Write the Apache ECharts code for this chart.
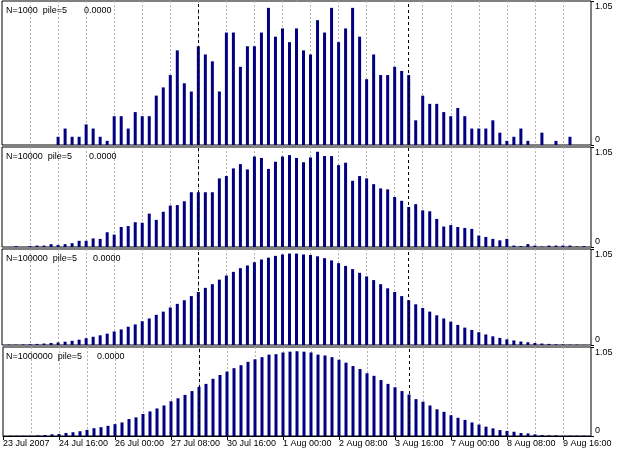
<!DOCTYPE html>
<html>
<head>
<meta charset="utf-8">
<script src="https://cdn.jsdelivr.net/npm/echarts@6/dist/echarts.min.js"></script>
<style>html,body{margin:0;padding:0;background:#fff}#main{width:625px;height:450px}</style>
</head>
<body>
<div id="main"></div>
<script>
// bottom axis labels, one every 8 bars (H4 bars)
const tickLabels = ['23 Jul 2007', '24 Jul 16:00', '26 Jul 00:00', '27 Jul 08:00', '30 Jul 16:00',
  '1 Aug 00:00', '2 Aug 08:00', '3 Aug 16:00', '7 Aug 00:00', '8 Aug 08:00', '9 Aug 16:00'];
const separators = ['28', '58'];
const panelNames = ['N=1000  pile=5', 'N=10000  pile=5', 'N=100000  pile=5', 'N=1000000  pile=5'];
const panelValues = ['0.0000', '0.0000', '0.0000', '0.0000'];

const n1000 = [0, 0, 0, 0, 0, 0, 0, 0, 0.06, 0.12, 0.06, 0.06, 0.15, 0.12, 0.06, 0.03,
  0.21, 0.21, 0.12, 0.24, 0.21, 0.21, 0.36, 0.42, 0.51, 0.69, 0.45, 0.39, 0.72, 0.66,
  0.61, 0.39, 0.82, 0.82, 0.57, 0.72, 0.72, 0.82, 1.0, 0.79, 0.85, 0.75, 0.85, 0.69,
  0.66, 0.91, 0.82, 1.0, 0.75, 0.85, 1.0, 0.79, 0.48, 0.66, 0.51, 0.51, 0.57, 0.54,
  0.51, 0.18, 0.36, 0.30, 0.30, 0.24, 0.21, 0.27, 0.21, 0.12, 0.12, 0.12, 0.18, 0.09,
  0.03, 0.06, 0.12, 0.03, 0, 0.09, 0, 0.03, 0, 0.06, 0, 0, 0];
const n10000 = [0, 0, 0.01, 0, 0.01, 0.015, 0.015, 0.03, 0.02, 0.03, 0.04, 0.065, 0.065,
  0.09, 0.085, 0.155, 0.13, 0.21, 0.22, 0.26, 0.255, 0.35, 0.285, 0.37, 0.435, 0.44,
  0.48, 0.575, 0.575, 0.575, 0.575, 0.72, 0.745, 0.825, 0.87, 0.815, 0.95, 0.935, 0.82,
  0.895, 0.95, 0.965, 0.935, 0.89, 0.94, 1.0, 0.955, 0.955, 0.86, 0.885, 0.695, 0.745,
  0.72, 0.66, 0.615, 0.605, 0.525, 0.485, 0.42, 0.45, 0.385, 0.375, 0.295, 0.215, 0.23,
  0.21, 0.2, 0.19, 0.12, 0.105, 0.085, 0.07, 0.085, 0.015, 0.01, 0.03, 0.015, 0.005,
  0.015, 0.015, 0.015, 0.015, 0.005, 0.01, 0];
const n100000 = [0, 0.004, 0.004, 0.006, 0.008, 0.012, 0.016, 0.022, 0.028, 0.036, 0.046,
  0.058, 0.074, 0.09, 0.106, 0.124, 0.148, 0.17, 0.2, 0.225, 0.26, 0.29, 0.33, 0.365,
  0.41, 0.45, 0.49, 0.535, 0.58, 0.625, 0.665, 0.715, 0.76, 0.8, 0.84, 0.87, 0.905,
  0.935, 0.955, 0.975, 0.99, 1.0, 1.0, 0.99, 0.985, 0.97, 0.95, 0.925, 0.895, 0.865,
  0.83, 0.79, 0.75, 0.71, 0.665, 0.62, 0.58, 0.535, 0.49, 0.445, 0.405, 0.365, 0.325,
  0.29, 0.255, 0.22, 0.19, 0.165, 0.14, 0.115, 0.095, 0.078, 0.062, 0.05, 0.038, 0.03,
  0.022, 0.016, 0.012, 0.008, 0.006, 0.004, 0.004, 0.002, 0];
const n1000000 = [0, 0.003, 0.003, 0.003, 0.004, 0.008, 0.012, 0.02, 0.024, 0.036, 0.044,
  0.056, 0.072, 0.092, 0.104, 0.12, 0.14, 0.16, 0.2, 0.22, 0.26, 0.29, 0.325, 0.36,
  0.41, 0.445, 0.485, 0.53, 0.58, 0.615, 0.675, 0.72, 0.76, 0.8, 0.835, 0.875, 0.905,
  0.93, 0.96, 0.965, 0.985, 0.995, 1.0, 0.995, 0.985, 0.96, 0.95, 0.93, 0.9, 0.865,
  0.825, 0.79, 0.74, 0.71, 0.66, 0.615, 0.575, 0.53, 0.49, 0.435, 0.405, 0.36, 0.315,
  0.285, 0.245, 0.215, 0.19, 0.16, 0.135, 0.11, 0.09, 0.07, 0.06, 0.05, 0.035, 0.03,
  0.02, 0.012, 0.008, 0.008, 0.004, 0.004, 0.004, 0.004, 0];

const panels = [n1000, n10000, n100000, n1000000];
const bars = n1000.map((_, i) => String(i));

const font = "'Liberation Sans', Arial, sans-serif";
const boxes = [
  { top: 1, height: 144 },
  { top: 147, height: 100 },
  { top: 249, height: 96 },
  { top: 347, height: 89 }
];
const valueLefts = [84, 89, 93, 97];
const last = panels.length - 1;

const chart = echarts.init(document.getElementById('main'));

const titles = [];
panels.forEach((_, i) => {
  const ts = { fontSize: 9, fontWeight: 'normal', fontFamily: font, color: '#000' };
  titles.push({ text: panelNames[i], left: 6, top: boxes[i].top + 5, padding: 0, textStyle: ts });
  titles.push({ text: panelValues[i], left: valueLefts[i], top: boxes[i].top + 5, padding: 0, textStyle: ts });
});

const series = [];
panels.forEach((vals, i) => {
  // separator lines sit behind the bars
  series.push({
    type: 'line',
    xAxisIndex: i,
    yAxisIndex: i,
    data: [],
    z: 1,
    markLine: {
      silent: true,
      symbol: 'none',
      label: { show: false },
      lineStyle: { color: '#000', type: [3, 3], width: 1 },
      data: separators.map(s => ({ xAxis: s }))
    }
  });
  series.push({
    type: 'bar',
    name: panelNames[i],
    xAxisIndex: i,
    yAxisIndex: i,
    data: vals,
    barWidth: 3,
    z: 3,
    itemStyle: { color: '#000080' }
  });
});

const option = {
  animation: false,
  backgroundColor: '#fff',
  title: titles,
  grid: boxes.map(b => ({
    left: 2, right: 34, top: b.top, height: b.height,
    show: true, borderColor: '#000', borderWidth: 1, backgroundColor: '#fff'
  })),
  xAxis: panels.map((_, i) => ({
    type: 'category',
    gridIndex: i,
    data: bars,
    boundaryGap: false,
    axisLine: { show: i === last, lineStyle: { color: '#000' } },
    axisTick: {
      show: i === last, length: 4,
      interval: idx => idx % 8 === 0,
      lineStyle: { color: '#000' }
    },
    axisLabel: {
      show: i === last,
      interval: idx => idx % 8 === 0,
      formatter: (v, idx) => tickLabels[idx / 8] || '',
      align: 'left', margin: 3,
      color: '#000', fontSize: 9, fontFamily: font
    },
    splitLine: {
      show: true,
      interval: idx => idx % 4 === 0 && idx > 0 && idx < bars.length - 1,
      lineStyle: { color: '#b4b4b4', type: [2, 2], width: 1 }
    }
  })),
  yAxis: panels.map((_, i) => ({
    type: 'value',
    gridIndex: i,
    position: 'right',
    min: 0, max: 1.05, interval: 1.05,
    axisLine: { show: false },
    axisTick: { show: true, length: 3, lineStyle: { color: '#000' } },
    splitLine: { show: false },
    axisLabel: {
      margin: 4, color: '#000', fontSize: 9, fontFamily: font,
      formatter: v => v === 0 ? '{lo|0}' : '{hi|' + v.toFixed(2) + '}',
      rich: {
        lo: { padding: [0, 0, 11, 0], fontSize: 9, fontFamily: font, color: '#000' },
        hi: { padding: [11, 0, 0, 0], fontSize: 9, fontFamily: font, color: '#000' }
      }
    }
  })),
  series: series
};

chart.setOption(option);
</script>
</body>
</html>
